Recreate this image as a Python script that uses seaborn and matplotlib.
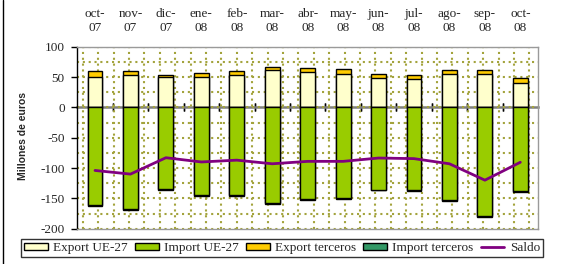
import numpy as np
import matplotlib
matplotlib.use("Agg")
import matplotlib.pyplot as plt
import seaborn as sns
from matplotlib.patches import Patch
from matplotlib.lines import Line2D

months = ["oct-\n07", "nov-\n07", "dic-\n07", "ene-\n08", "feb-\n08", "mar-\n08", "abr-\n08",
          "may-\n08", "jun-\n08", "jul-\n08", "ago-\n08", "sep-\n08", "oct-\n08"]
export_ue = [49.5, 53, 49.5, 49.5, 54, 61, 58, 54.5, 48, 46.7, 54.4, 54.4, 40]
export_terceros = [10.5, 7, 4.5, 7, 6, 5.5, 7, 8, 7, 7.3, 6.6, 7.6, 8]
import_ue = [-160.5, -168, -135, -145, -144, -158, -151, -149, -135.5, -136.5, -152.5, -179.5, -138]
import_terceros = [-2, -1.5, -2, -1.5, -1.5, -1.5, -1.5, -1.5, -1.5, -1.5, -1.5, -1.5, -1.5]
saldo = [-104, -110, -83, -90, -87, -93, -89, -89, -83.5, -84.5, -93, -120, -90.5]

c_exp_ue = "#FFFFCC"
c_imp_ue = "#99CC00"
c_exp_ter = "#FFCC00"
c_imp_ter = "#339966"
c_saldo = "#800080"
c_grid = "#A3A33C"

sns.set_style("white")
plt.rcParams["font.family"] = ["Liberation Serif", "DejaVu Serif"]
plt.rcParams["font.size"] = 9.5
plt.rcParams["axes.unicode_minus"] = False

pos = np.arange(len(months))
exp_total = np.array(export_ue) + np.array(export_terceros)
imp_total = np.array(import_ue) + np.array(import_terceros)

fig = plt.figure(figsize=(5.65, 2.64), dpi=100)
ax = fig.add_axes([0.1368, 0.1337, 0.8155, 0.6894])

bar_kw = dict(width=0.42, native_scale=True, orient="x", errorbar=None,
              saturation=1, edgecolor="black", linewidth=1, ax=ax)
# stacked by overdrawing: totals first, then the EU part on top
sns.barplot(x=pos, y=exp_total, color=c_exp_ter, **bar_kw)
sns.barplot(x=pos, y=export_ue, color=c_exp_ue, **bar_kw)
sns.barplot(x=pos, y=imp_total, color=c_imp_ter, **bar_kw)
sns.barplot(x=pos, y=import_ue, color=c_imp_ue, **bar_kw)
sns.lineplot(x=pos, y=saldo, color=c_saldo, linewidth=2, ax=ax, zorder=5)

ax.set_xlim(-0.5, len(months) - 0.5)
ax.set_ylim(-200, 100)

# ticks / labels
ax.set_xticks(pos)
ax.set_xticklabels(months)
for lbl in ax.get_xticklabels():
    lbl.set_linespacing(1.05)
ax.tick_params(axis="x", which="both", top=True, bottom=False, labeltop=True,
               labelbottom=False, length=0, pad=9)
ax.set_xticks(np.arange(30) * 0.4345 - 0.347, minor=True)
ax.set_yticks(np.arange(-200, 101, 50))
ax.set_yticks(np.arange(-175, 100, 50), minor=True)
ax.tick_params(axis="y", which="major", left=True, direction="out", length=4,
               width=1, pad=5, color="black")
ax.tick_params(axis="y", which="minor", length=0)
ax.set_xlabel("")
ax.set_ylabel("")

ax.set_axisbelow(True)
ax.grid(False)
ax.grid(which="minor", axis="x", color=c_grid, linestyle=(0, (1, 1.8)), linewidth=1.5)
ax.grid(which="both", axis="y", color=c_grid, linestyle=(0, (1, 1.8)), linewidth=1.5)

for s in ["top", "right", "bottom"]:
    ax.spines[s].set_color("#9A9A9A")
    ax.spines[s].set_linewidth(1)
ax.spines["left"].set_color("black")
ax.spines["left"].set_linewidth(1)

# zero line with ticks between categories
sec = ax.secondary_xaxis(2 / 3)
sec.set_xticks(pos[:-1] + 0.5)
sec.tick_params(axis="x", which="both", direction="inout", length=6, width=1,
                color="black", labeltop=False, labelbottom=False, top=True, bottom=True)
for s in sec.spines.values():
    s.set_color("#7F7F7F")
    s.set_linewidth(1.8)

fig.text(23 / 565, 0.485, "Millones de euros", rotation=90, ha="center", va="center",
         family="Liberation Sans", weight="bold", fontsize=7.5)

handles = [
    Patch(facecolor=c_exp_ue, edgecolor="black", label="Export UE-27"),
    Patch(facecolor=c_imp_ue, edgecolor="black", label="Import UE-27"),
    Patch(facecolor=c_exp_ter, edgecolor="black", label="Export terceros"),
    Patch(facecolor=c_imp_ter, edgecolor="black", label="Import terceros"),
    Line2D([0], [0], color=c_saldo, linewidth=2, label="Saldo"),
]
leg = fig.legend(handles=handles, loc="center", bbox_to_anchor=(0.499, 0.0606), ncol=5,
                 frameon=True, fancybox=False, edgecolor="black", handlelength=1.8,
                 handleheight=0.5, handletextpad=0.4, columnspacing=0.55,
                 borderpad=0.25, fontsize=9.5, borderaxespad=0)
leg.get_frame().set_linewidth(1)

fig.add_artist(Line2D([2.5 / 565, 2.5 / 565], [0, 1], color="black", linewidth=1))

fig.savefig("out.png", dpi=100)
